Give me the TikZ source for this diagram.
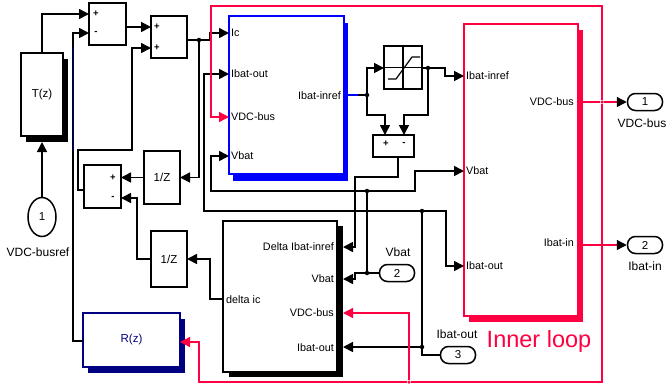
\documentclass[tikz,border=0pt]{standalone}
\usepackage{fontspec}
\setmainfont{Liberation Sans}
\usetikzlibrary{arrows.meta,calc,shapes.geometric}
\definecolor{sred}{RGB}{255,0,64}
\definecolor{sblue}{RGB}{0,0,255}
\definecolor{snavy}{RGB}{0,0,128}
\begin{document}
\begin{tikzpicture}[x=1pt,y=-1pt,
  wire/.style={line width=1.6pt, draw=black, line join=miter},
  rwire/.style={line width=1.3pt, draw=sred},
  arr/.style={-{Triangle[length=10pt,width=10pt]}},
  arrk/.style={-{Triangle[length=10pt,width=10pt,color=black]}},
  blk/.style={draw, line width=1.6pt, fill=white, inner sep=0pt, outer sep=0pt},
  shad/.style={inner sep=0pt, outer sep=0pt, draw=none},
  plab/.style={font=\fontsize{10.8}{12}\selectfont, inner sep=1pt},
  elab/.style={font=\fontsize{12}{14}\selectfont, inner sep=0pt},
  bname/.style={font=\fontsize{11.5}{13}\selectfont},
  sgn/.style={font=\fontsize{9.5}{10}\selectfont\bfseries, inner sep=0pt},
  jdot/.style={circle, fill, inner sep=0pt, minimum size=4.5pt},
  port/.style={draw, line width=1.5pt, rounded corners=8pt, inner sep=0pt, minimum width=35pt, minimum height=17pt, font=\fontsize{11.5}{13}\selectfont},
]
\useasboundingbox (0,0) rectangle (667,389);

% ---------- blocks ----------
% T(z)
\node[shad, fill=black, minimum width=42pt, minimum height=83pt] (TS) at (47,100.5) {};
\node[blk, minimum width=42pt, minimum height=83pt, bname] (T) at (42,94.5) {T(z)};
% inport 1
\node[draw, ellipse, line width=1.5pt, minimum width=28pt, minimum height=39pt, inner sep=0pt, font=\fontsize{11.5}{13}\selectfont] (In1) at (42,217) {1};
\node[elab] (In1l) at (38,252) {VDC-busref};
% sums
\node[blk, minimum width=37pt, minimum height=42pt] (S1) at (107.5,24) {};
\node[sgn] (S1p) at (96,14) {+};
\node[sgn] (S1m) at (96,33) {-};
\node[blk, minimum width=36pt, minimum height=42pt] (S2) at (169,37) {};
\node[sgn] (S2p) at (157,27) {+};
\node[sgn] (S2q) at (157,48) {+};
\node[blk, minimum width=37pt, minimum height=43pt] (S3) at (102.5,186.5) {};
\node[sgn] (S3p) at (113,178) {+};
\node[sgn] (S3m) at (113,198) {-};
% unit delays
\node[blk, minimum width=36pt, minimum height=53pt, bname] (Z1) at (162,177.5) {1/Z};
\node[blk, minimum width=36pt, minimum height=56pt, bname] (Z2) at (169,259) {1/Z};
% R(z)
\node[shad, fill=snavy, minimum width=97pt, minimum height=54pt] (RS) at (136.5,346) {};
\node[blk, draw=snavy, minimum width=97pt, minimum height=54pt, bname, text=snavy] (R) at (131.5,340) {R(z)};
% blue block
\node[shad, fill=sblue, minimum width=115pt, minimum height=158pt] (BS) at (290.5,102) {};
\node[blk, draw=sblue, minimum width=115pt, minimum height=158pt] (B) at (286.5,95) {};
\node[plab, anchor=west] (Bl1) at (230,33) {Ic};
\node[plab, anchor=west] (Bl2) at (230,74) {Ibat-out};
\node[plab, anchor=west] (Bl3) at (230,117) {VDC-bus};
\node[plab, anchor=west] (Bl4) at (230,156) {Vbat};
\node[plab, anchor=east] (Bo) at (342,96) {Ibat-inref};
% saturation
\node[blk, minimum width=38pt, minimum height=43pt] (Sat) at (403,67.5) {};
\draw[line width=1.2pt] (Sat.north) -- (Sat.south) (Sat.west) -- (Sat.east);
\draw[line width=1.2pt] ($(Sat.center)+(-15,11.5)$) -- ++(8,0) -- ++(16,-22) -- ++(8,0);
% small sum
\node[blk, minimum width=41pt, minimum height=22pt] (SS) at (393.5,146) {};
\node[sgn] (SSp) at (386,144) {+};
\node[sgn] (SSm) at (404,144) {-};
% red block
\node[shad, fill=sred, minimum width=114pt, minimum height=292pt] (RdS) at (526,176) {};
\node[blk, draw=sred, minimum width=114pt, minimum height=292pt] (Rd) at (521,170) {};
\node[plab, anchor=west] (Rl1) at (465,76) {Ibat-inref};
\node[plab, anchor=west] (Rl2) at (465,171) {Vbat};
\node[plab, anchor=west] (Rl3) at (465,266) {Ibat-out};
\node[plab, anchor=east] (Ro1) at (575,102) {VDC-bus};
\node[plab, anchor=east] (Ro2) at (575,243) {Ibat-in};
% delta block
\node[shad, fill=black, minimum width=114pt, minimum height=151pt] (DS) at (286,301.5) {};
\node[blk, minimum width=114pt, minimum height=151pt] (D) at (280,296.5) {};
\node[plab, anchor=east] (Dl1) at (335,247) {Delta Ibat-inref};
\node[plab, anchor=east] (Dl2) at (335,279) {Vbat};
\node[plab, anchor=east] (Dl3) at (335,313) {VDC-bus};
\node[plab, anchor=east] (Dl4) at (335,348) {Ibat-out};
\node[plab, anchor=west] (Do) at (225,300) {delta ic};
% ports
\node[port] (In2) at (397,273) {2};
\node[elab] (In2l) at (398,252) {Vbat};
\node[port] (In3) at (458,355) {3};
\node[elab] (In3l) at (457,334) {Ibat-out};
\node[port] (Out1) at (645,102) {1};
\node[elab, anchor=east] (Out1l) at (666.5,123) {VDC-bus};
\node[port] (Out2) at (645,245) {2};
\node[elab] (Out2l) at (645,266) {Ibat-in};
% inner loop label
\node[text=sred, font=\fontsize{23.5}{26}\selectfont, inner sep=0pt] (IL) at (539,341) {Inner loop};

% ---------- junctions ----------
\node[jdot] (J1) at (199,40) {};
\node[jdot] (J2) at (367,95) {};
\node[jdot] (J3) at (428,68) {};
\node[jdot] (J4) at (367,273) {};
\node[jdot] (J5) at (367,191) {};
\node[jdot] (J6) at (422,347) {};
\node[jdot] (J7) at (422,211) {};
\node[jdot, fill=sred, minimum size=3.5pt] (J8) at (602,102) {};
\node[jdot, fill=sred, minimum size=3.5pt] (J9) at (409,382) {};

% ---------- wires ----------
\draw[wire,arr] (In1.north) -- (In1.north |- TS.south);
\draw[wire,arr] (T.north) |- (S1.west |- 0,14);
\draw[wire,arr] (R.west |- 0,341) -| (73,100) |- (S1.west |- 0,33);
\draw[snavy, line width=1pt] (73,47) -- (73,150);
\draw[wire,arr] (S1.east |- 0,27) -- (S2.west |- 0,27);
\draw[wire] (S2.east |- J1) -- (J1);
\draw[wire,arr] (J1) -- (210,40) |- (B.west |- 0,33);
\draw[wire,arr] (J1) |- (Z1.east);
\draw[wire,arr] (Z1.west) -- (S3.east |- Z1.west);
\draw[wire,arr] (S3.west |- 0,190) -- (78,190) |- (132,150) |- (S2.west |- 0,48);
\draw[wire,arr] (Z2.west) -| (137,230) |- (S3.east |- 0,198);
\draw[wire,arr] (D.west |- 0,299) -| (210,280) |- (Z2.east);
\draw[line width=1.6pt, sblue] (BS.east |- J2) -- (358,95);
\draw[wire] (358,95) -- (J2);
\draw[wire,arr] (J2) |- (Sat.west |- 0,68);
\draw[wire,arr] (J2) |- (385,115) -- (SS.north -| 385,0);
\draw[wire] (Sat.east |- J3) -- (J3);
\draw[wire,arr] (J3) -- (445,68) |- (Rd.west |- 0,76);
\draw[wire,arr] (J3) |- (404,115) -- (SS.north -| 404,0);
\draw[wire,arr] (SS.south -| 398,0) |- (355,177) |- (DS.east |- 0,247);
\draw[wire] (In2.west) -- (J4);
\draw[wire,arr] (J4) -- (355,273) |- (DS.east |- 0,279);
\draw[wire] (J4) -- (J5);
\draw[wire,arr] (J5) -| (211,170) |- (B.west |- 0,156);
\draw[wire,arr] (J5) -| (415,180) |- (Rd.west |- 0,171);
\draw[wire] (In3.west) -| (J6);
\draw[wire,arr] (J6) -- (DS.east |- J6);
\draw[wire] (J6) -- (J7);
\draw[wire,arr] (J7) -| (204,150) |- (B.west |- 0,74);
\draw[wire,arr] (J7) -| (446,240) |- (Rd.west |- 0,266);
% red signal routing
\draw[rwire] (RdS.east |- J8) -- (J8);
\draw[rwire,arrk] (J8) -- (Out1.west);
\draw[rwire,arr] (J8) |- (211,6) |- (B.west |- 0,117);
\draw[rwire] (J8) |- (J9);
\draw[rwire,arr] (J9) -- (199,382) |- (R.east |- 0,342);
\draw[rwire,arr] (J9) |- (DS.east |- 0,313);
\draw[rwire,arrk] (RdS.east |- 0,245) -- (Out2.west);
\end{tikzpicture}
\end{document}
